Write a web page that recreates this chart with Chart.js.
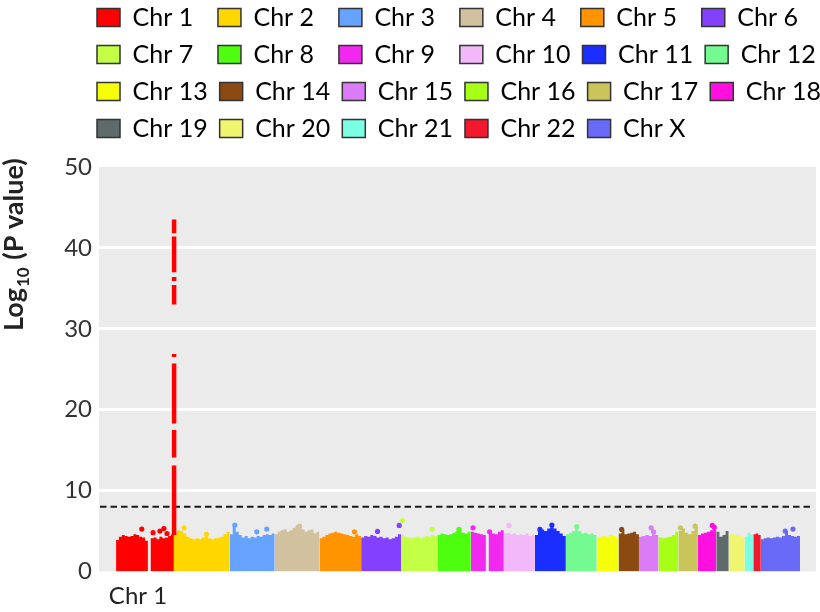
<!DOCTYPE html>
<html>
<head>
<meta charset="utf-8">
<script src="https://cdn.jsdelivr.net/npm/chart.js@4.4.1/dist/chart.umd.min.js"></script>
<style>
  html, body { margin: 0; padding: 0; background: #fff; }
  #wrap { width: 820px; height: 612px; }
</style>
</head>
<body>
<div id="wrap"><canvas id="manhattan" width="820" height="612"></canvas></div>
<script>
// chromosomes, cumulative genome position in Mb
const chrNames = ['Chr 1', 'Chr 2', 'Chr 3', 'Chr 4', 'Chr 5', 'Chr 6', 'Chr 7', 'Chr 8', 'Chr 9', 'Chr 10', 'Chr 11', 'Chr 12',
    'Chr 13', 'Chr 14', 'Chr 15', 'Chr 16', 'Chr 17', 'Chr 18', 'Chr 19', 'Chr 20', 'Chr 21', 'Chr 22', 'Chr X'];
const chrColors = ['#ff0000', '#ffd700', '#66a3ff', '#d2c19f', '#ff9400', '#8440ff', '#c2ff45', '#4dff0f', '#f028f0', '#f2b8fa', '#1a2eff', '#74fa90',
    '#f5ff0a', '#8a4a12', '#d97cf5', '#a6ff14', '#c9c55a', '#ff0fe0', '#5e6b6a', '#eff56e', '#7bffe2', '#f2182e', '#6a6af8'];
const chrStart = [0, 261, 513, 716, 918, 1106, 1286, 1450, 1601, 1750, 1890, 2030, 2169, 2268, 2360, 2448, 2538, 2626, 2709, 2765, 2837, 2876, 2910];
const chrEnd = [261, 513, 716, 918, 1106, 1286, 1450, 1601, 1750, 1890, 2030, 2169, 2268, 2360, 2448, 2538, 2626, 2709, 2765, 2837, 2876, 2910, 3087];

// upper edge of the dense cloud of SNPs, -log10(p) per bin (equal bins per chromosome)
const cloudTop = [
    [3.9, 4.3, 4.5, 4.4, 4.3, 4.4, 4.6, 4.5, 4.3, 4.2, 3.8, 0, 4.1, 4.2, 4.0, 4.3, 4.1, 4.2, 4.4, 4.6],
    [4.8, 5.1, 5.0, 4.7, 4.3, 4.1, 4.0, 4.1, 4.0, 4.2, 4.3, 4.1, 4.0, 4.1, 4.2, 4.3, 4.6, 4.9],
    [4.6, 5.6, 4.9, 4.5, 4.2, 4.4, 4.1, 4.3, 4.2, 4.4, 4.3, 4.5, 4.6, 4.5, 4.7],
    [4.6, 4.9, 5.1, 5.2, 4.9, 5.1, 5.4, 5.7, 5.6, 5.2, 4.9, 5.1, 5.2, 4.7, 4.9],
    [4.1, 4.3, 4.5, 4.7, 4.8, 4.9, 4.8, 4.7, 4.6, 4.5, 4.4, 4.3, 4.6, 4.4],
    [4.2, 4.4, 4.3, 4.5, 4.4, 4.2, 4.3, 4.1, 4.2, 4.0, 4.1, 4.3, 4.6],
    [4.5, 4.3, 4.2, 4.1, 4.2, 4.3, 4.1, 4.2, 4.4, 4.3, 4.5, 4.4],
    [4.5, 4.7, 4.6, 4.5, 4.6, 4.8, 5.0, 5.1, 4.8, 4.7, 4.9],
    [4.9, 4.8, 4.7, 4.6, 4.5, 0, 4.8, 4.7, 4.6, 4.9, 5.1],
    [4.7, 4.8, 4.6, 4.7, 4.5, 4.6, 4.5, 4.7, 4.4, 4.5],
    [4.5, 5.0, 5.2, 5.0, 5.3, 5.7, 5.3, 5.0, 4.7, 4.4],
    [4.6, 4.8, 5.0, 5.4, 5.0, 4.7, 4.8, 4.6, 4.7, 4.5],
    [4.2, 4.3, 4.4, 4.3, 4.5, 4.4, 4.3],
    [4.7, 5.1, 4.6, 4.7, 4.8, 4.9, 4.6],
    [4.3, 4.4, 4.5, 4.4, 4.6, 4.5],
    [4.2, 4.1, 4.2, 4.3, 4.5, 4.9],
    [5.0, 5.3, 4.8, 4.6, 5.0, 5.5],
    [4.5, 4.7, 4.8, 4.9, 5.1, 5.3],
    [4.9, 4.3, 4.5, 5.0],
    [4.7, 4.6, 4.5, 4.4, 4.3],
    [4.3, 4.8, 4.5],
    [4.6, 4.7, 4.5],
    [4.0, 4.1, 4.2, 4.1, 4.2, 4.3, 4.2, 4.4, 5.0, 4.5, 4.4, 4.3, 4.4]
];

// single SNPs standing above the cloud
const outlierChr = [0, 0, 0, 0, 0, 1, 1, 2, 2, 2, 3, 4, 5, 5, 6, 6, 7, 8, 8, 9, 10, 10, 11, 13, 14, 14, 16, 16, 17, 17, 22, 22];
const outlierPos = [116, 167, 198, 216, 230, 307, 408, 536, 680, 635, 828, 1076, 1180, 1278, 1292, 1427, 1548, 1611, 1686, 1773, 1967, 1913, 2079, 2282, 2415, 2426, 2547, 2614, 2691, 2700, 3020, 3055];
const outlierP = [5.25, 4.8, 5.0, 5.3, 4.7, 5.4, 4.6, 5.75, 5.25, 4.9, 5.6, 4.9, 4.95, 5.7, 6.3, 5.2, 5.2, 5.4, 4.9, 5.7, 5.75, 5.2, 5.55, 5.2, 5.4, 4.9, 5.4, 5.6, 5.7, 5.45, 5.0, 5.25];

// the chromosome 1 hit: runs of SNPs stacked at one locus
const spikePos = 262;
const spikeLow = [4.5, 14.1, 18.3, 26.5, 33.0, 35.9, 37.0, 41.8];
const spikeHigh = [13.1, 17.5, 25.7, 26.9, 35.4, 36.4, 41.4, 43.5];

const yTicks = [0, 10, 20, 30, 40, 50];
const xTickLabels = ['Chr 1'];
const threshold = 8;

const FONT = 'Lato, "Liberation Sans", sans-serif';

const datasets = [];

const spikeData = [];
spikeLow.forEach((lo, i) => {
    spikeData.push({ x: spikePos, y: lo }, { x: spikePos, y: spikeHigh[i] }, { x: spikePos, y: null });
});
datasets.push({
    label: 'hit', data: spikeData, borderColor: chrColors[0], borderWidth: 4.5,
    borderCapStyle: 'butt', pointRadius: 0, fill: false, spanGaps: false
});

datasets.push({
    label: 'outliers',
    data: outlierPos.map((x, i) => ({ x: x, y: outlierP[i] })),
    showLine: false, pointRadius: 2.6, pointBorderWidth: 0,
    pointBackgroundColor: outlierChr.map(c => chrColors[c])
});

chrNames.forEach((name, c) => {
    const tops = cloudTop[c];
    const w = (chrEnd[c] - chrStart[c]) / tops.length;
    const pts = tops.map((v, i) => ({ x: chrStart[c] + i * w, y: v }));
    pts.push({ x: chrEnd[c], y: tops[tops.length - 1] });
    datasets.push({
        label: name, data: pts, stepped: true, fill: 'origin',
        backgroundColor: chrColors[c], borderColor: chrColors[c], borderWidth: 0, pointRadius: 0
    });
});

const panelBg = {
    id: 'panelBg',
    beforeDraw(chart) {
        const { ctx, chartArea: a } = chart;
        ctx.save();
        ctx.fillStyle = '#ebebeb';
        ctx.fillRect(a.left, a.top, a.right - a.left, a.bottom - a.top);
        ctx.restore();
    }
};

const thresholdLine = {
    id: 'thresholdLine',
    beforeDatasetsDraw(chart) {
        const { ctx, chartArea: a, scales } = chart;
        const y = scales.y.getPixelForValue(threshold);
        ctx.save();
        ctx.strokeStyle = '#1a1a1a';
        ctx.lineWidth = 2;
        ctx.setLineDash([6.5, 4]);
        ctx.beginPath();
        ctx.moveTo(a.left + 1, y);
        ctx.lineTo(a.right - 3, y);
        ctx.stroke();
        ctx.restore();
    }
};

// y title with a real subscript
const yTitle = {
    id: 'yTitle',
    afterDraw(chart) {
        const ctx = chart.ctx;
        ctx.save();
        ctx.translate(23, 331);
        ctx.rotate(-Math.PI / 2);
        ctx.fillStyle = '#222';
        ctx.textBaseline = 'alphabetic';
        let x = 0;
        ctx.font = 'bold 27px ' + FONT;
        ctx.fillText('Log', x, 0);
        x += ctx.measureText('Log').width + 1;
        ctx.font = 'bold 17px ' + FONT;
        ctx.fillText('10', x, 6);
        x += ctx.measureText('10').width + 1;
        ctx.font = 'bold 27px ' + FONT;
        ctx.fillText(' (P value)', x, 0);
        ctx.restore();
    }
};

// line the legend up with the panel's left edge
const legendShift = {
    id: 'legendShift',
    afterLayout(chart) {
        const lg = chart.legend;
        lg.left += 85; lg.right += 85;
        lg.top -= 16; lg.bottom -= 16;
    }
};

new Chart(document.getElementById('manhattan'), {
    type: 'line',
    data: { datasets: datasets },
    plugins: [panelBg, thresholdLine, yTitle, legendShift],
    options: {
        responsive: false,
        animation: false,
        events: [],
        layout: { padding: { top: 9, right: 2, bottom: 0, left: 0 } },
        plugins: {
            tooltip: { enabled: false },
            legend: {
                position: 'top',
                align: 'start',
                labels: {
                    boxWidth: 23,
                    boxHeight: 18,
                    padding: 12,
                    color: '#222',
                    font: { family: FONT, size: 25 },
                    generateLabels: () => chrNames.map((n, i) => ({
                        text: n + (n.length === 5 ? '  ' : ''),
                        fillStyle: chrColors[i],
                        strokeStyle: '#333',
                        lineWidth: 1.5,
                        hidden: false,
                        datasetIndex: i + 2
                    }))
                }
            }
        },
        scales: {
            x: {
                type: 'linear',
                min: -77,
                max: 3159,
                grid: { display: false, drawTicks: false },
                border: { display: false },
                afterBuildTicks: scale => {
                    scale.ticks = xTickLabels.map((t, i) => ({ value: (chrStart[i] + chrEnd[i]) / 2 }));
                },
                afterFit: scale => { scale.height = 40.5; },
                ticks: {
                    padding: 10,
                    labelOffset: -7,
                    maxRotation: 0,
                    autoSkip: false,
                    color: '#222',
                    font: { family: FONT, size: 24 },
                    callback: (v, i) => xTickLabels[i]
                }
            },
            y: {
                min: 0,
                max: 50,
                afterBuildTicks: scale => { scale.ticks = yTicks.map(v => ({ value: v })); },
                afterFit: scale => { scale.width = 99; },
                grid: {
                    drawTicks: false,
                    lineWidth: 3,
                    color: c => (c.tick && (c.tick.value === 0 || c.tick.value === 50)) ? 'rgba(0,0,0,0)' : '#ffffff'
                },
                border: { display: false },
                ticks: {
                    padding: 7,
                    color: '#333',
                    font: { family: FONT, size: 24 }
                }
            }
        }
    }
});
</script>
</body>
</html>
